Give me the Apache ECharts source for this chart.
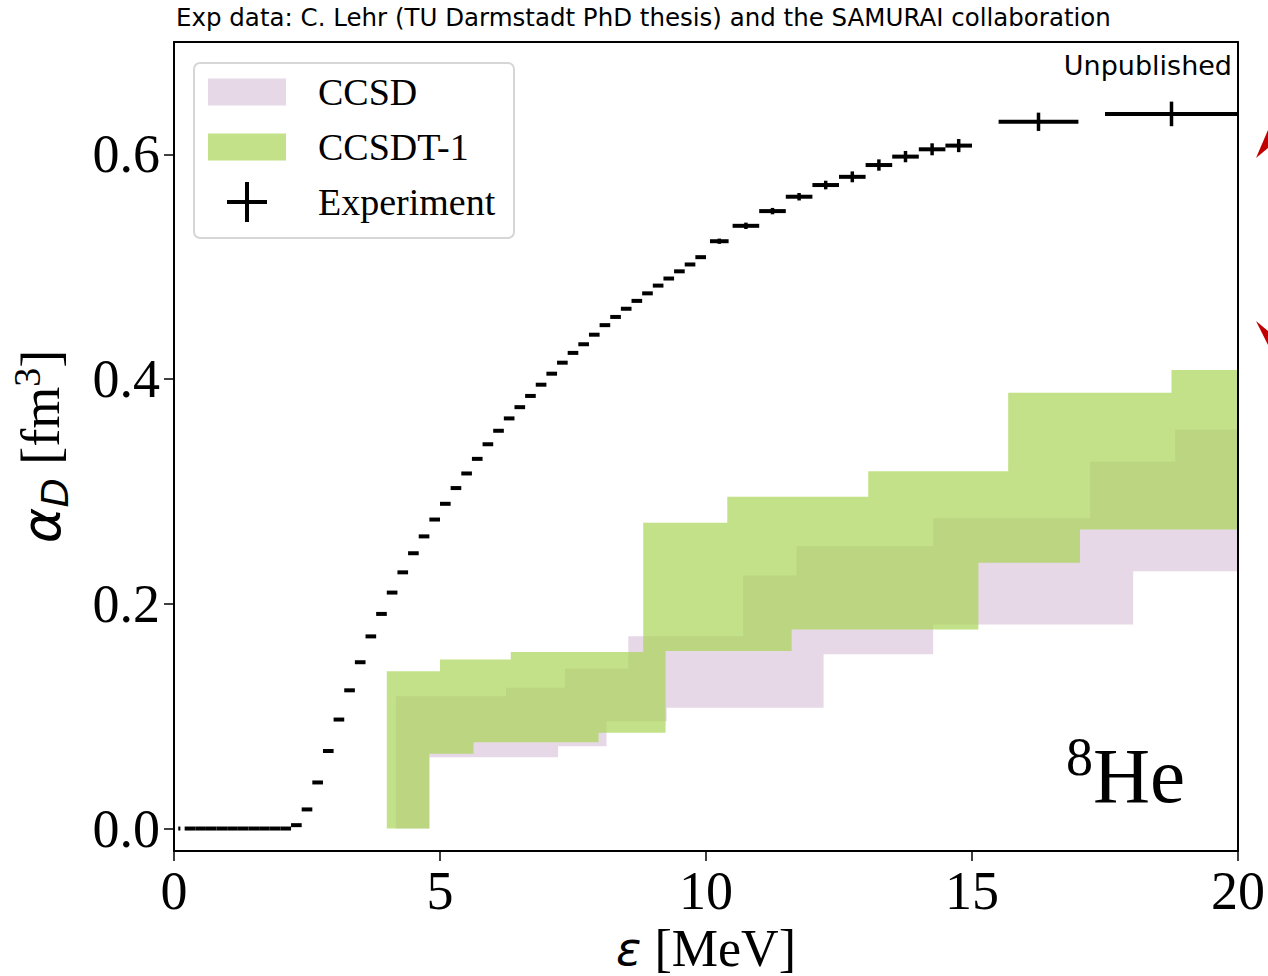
<!DOCTYPE html>
<html><head><meta charset="utf-8">
<script src="https://cdn.jsdelivr.net/npm/echarts@6/dist/echarts.min.js"></script>
<style>html,body{margin:0;padding:0;background:#fff}#c{width:1268px;height:976px}</style>
</head><body><div id="c"></div>
<script>
// ---- Experimental data (C. Lehr / SAMURAI) ----
const expX = [0.1,0.3,0.5,0.7,0.9,1.1,1.3,1.5,1.7,1.9,2.1,
  2.3,2.5,2.7,2.9,3.1,3.3,3.5,3.7,3.9,4.1,4.3,4.5,4.7,4.9,5.1,5.3,5.5,5.7,5.9,6.1,6.3,6.5,
  6.7,6.9,7.1,7.3,7.5,7.7,7.9,8.1,8.3,8.5,8.7,8.9,9.1,9.3,9.5,9.7,9.9,
  10.25,10.75,11.25,11.75,12.25,12.75,13.25,13.75,14.25,14.75,16.25,18.75];
const expY = [0,0,0,0,0,0,0,0,0,0,0,
  0.003,0.017,0.041,0.069,0.097,0.123,0.148,0.171,0.191,0.210,0.228,0.245,0.260,0.275,0.289,0.303,0.316,0.329,0.342,0.354,0.365,0.375,
  0.385,0.395,0.4048,0.4146,0.4233,0.431,0.4395,0.448,0.4553,0.4626,0.4696,0.4763,0.4832,0.4895,0.4959,0.502,0.5085,
  0.5227,0.5364,0.5495,0.5623,0.5727,0.580,0.5905,0.598,0.6045,0.6078,0.629,0.636];
const expXErr = [0.02,0.1,0.1,0.1,0.1,0.1,0.1,0.1,0.1,0.1,0.1,
  0.1,0.1,0.1,0.1,0.1,0.1,0.1,0.1,0.1,0.1,0.1,0.1,0.1,0.1,0.1,0.1,0.1,0.1,0.1,0.1,0.1,0.1,
  0.1,0.1,0.1,0.1,0.1,0.1,0.1,0.1,0.1,0.1,0.1,0.1,0.1,0.1,0.1,0.1,0.1,
  0.175,0.25,0.25,0.25,0.25,0.25,0.25,0.25,0.25,0.25,0.75,1.25];
const expYErr = [0,0,0,0,0,0,0,0,0,0,0,
  0,0,0,0,0,0,0,0,0,0,0,0,0,0,0,0,0,0,0,0,0,0,
  0,0,0,0,0,0,0,0,0,0,0,0,0,0,0,0,0,
  0.001,0.0015,0.0015,0.002,0.0025,0.0035,0.0037,0.0037,0.004,0.0045,0.0068,0.0096];

// ---- Theory bands: step energies (MeV) and cumulative alpha_D values (fm^3) ----
const ccsdUpperE   = [4.17, 6.24, 7.35, 8.54, 10.70, 11.70, 14.27, 17.22, 18.82];
const ccsdUpperV   = [0.1178, 0.1252, 0.1422, 0.1712, 0.2252, 0.2513, 0.2762, 0.3264, 0.3552];
const ccsdLowerE   = [4.80, 7.22, 8.13, 9.26, 12.21, 14.27, 18.03];
const ccsdLowerV   = [0.0635, 0.0733, 0.0955, 0.1074, 0.155, 0.1816, 0.229];
const ccsdt1UpperE = [4.00, 5.00, 6.33, 8.82, 10.40, 13.05, 15.68, 18.75];
const ccsdt1UpperV = [0.140, 0.1505, 0.157, 0.2721, 0.2953, 0.318, 0.3879, 0.408];
const ccsdt1LowerE = [4.80, 5.63, 7.98, 9.24, 11.61, 15.12, 17.03];
const ccsdt1LowerV = [0.0665, 0.0768, 0.0852, 0.1579, 0.1772, 0.2365, 0.2662];

// ---- Axes ----
const xMin = 0, xMax = 20, xInterval = 5;
const yMin = -0.02, yMax = 0.70;
const yTickValues = [0.0, 0.2, 0.4, 0.6];

const SERIF = '"Liberation Serif", "Times New Roman", serif';
const SANS = '"DejaVu Sans", sans-serif';
const PINK = '#e6d8e6';
const GREEN = 'rgba(169,212,85,0.7)';

function stepPoints(E, V, api) {
  const pts = [api.coord([xMin, 0])];
  let prev = 0;
  for (let i = 0; i < E.length; i++) {
    pts.push(api.coord([E[i], prev]));
    pts.push(api.coord([E[i], V[i]]));
    prev = V[i];
  }
  pts.push(api.coord([xMax, prev]));
  return pts;
}
function bandRenderer(UE, UV, LE, LV, color) {
  return function (params, api) {
    const up = stepPoints(UE, UV, api);
    const lo = stepPoints(LE, LV, api).reverse();
    return { type: 'polygon', shape: { points: up.concat(lo) }, style: { fill: color, stroke: null } };
  };
}

const expData = expX.map((x, i) => [x, expY[i], expXErr[i], expYErr[i]]);

const chart = echarts.init(document.getElementById('c'), null, { renderer: 'svg' });
const option = {
  animation: false,
  backgroundColor: '#fff',
  title: {
    text: 'Exp data: C. Lehr (TU Darmstadt PhD thesis) and the SAMURAI collaboration',
    left: 176, top: 5, padding: 0,
    textStyle: { fontFamily: SANS, fontSize: 24.5, fontWeight: 'normal', color: '#000' }
  },
  grid: { left: 174, right: 30, top: 42, bottom: 125, show: false, containLabel: false, outerBoundsMode: 'none' },
  xAxis: [{
    type: 'value', min: xMin, max: xMax, interval: xInterval, z: 10,
    axisLine: { show: true, onZero: false, lineStyle: { color: '#000', width: 2 } },
    axisTick: { show: true, inside: false, length: 10, lineStyle: { color: '#000', width: 1.5 } },
    axisLabel: { margin: 13, fontFamily: SERIF, fontSize: 54, color: '#000' },
    splitLine: { show: false },
    name: '{e|ε}{t| [MeV]}', nameLocation: 'middle', nameGap: 57,
    nameTextStyle: { rich: {
      e: { fontFamily: SANS, fontStyle: 'italic', fontSize: 47, color: '#000' },
      t: { fontFamily: SERIF, fontSize: 52, color: '#000' } } }
  }, {
    type: 'value', position: 'top', min: xMin, max: xMax, interval: xInterval, z: 10,
    axisLine: { show: true, onZero: false, lineStyle: { color: '#000', width: 2 } },
    axisTick: { show: false }, axisLabel: { show: false }, splitLine: { show: false }
  }],
  yAxis: [{
    type: 'value', min: yMin, max: yMax, z: 10,
    axisLine: { show: true, onZero: false, lineStyle: { color: '#000', width: 2 } },
    axisTick: { show: true, inside: false, length: 10, customValues: yTickValues, lineStyle: { color: '#000', width: 1.5 } },
    axisLabel: { margin: 14, customValues: yTickValues, formatter: v => v.toFixed(1), fontFamily: SERIF, fontSize: 54, color: '#000' },
    splitLine: { show: false },
    name: '{a|α}{d|D}{t| [fm}{u|3}{t|]}', nameLocation: 'middle', nameGap: 100, nameRotate: 90,
    nameTextStyle: { rich: {
      a: { fontFamily: SANS, fontStyle: 'italic', fontSize: 54, lineHeight: 66, verticalAlign: 'middle', color: '#000' },
      d: { fontFamily: SANS, fontStyle: 'italic', fontSize: 38, lineHeight: 38, verticalAlign: 'bottom', color: '#000' },
      t: { fontFamily: SERIF, fontSize: 54, lineHeight: 66, verticalAlign: 'middle', color: '#000' },
      u: { fontFamily: SERIF, fontSize: 38, lineHeight: 38, verticalAlign: 'top', color: '#000' } } }
  }, {
    type: 'value', position: 'right', min: yMin, max: yMax, z: 10,
    axisLine: { show: true, onZero: false, lineStyle: { color: '#000', width: 2 } },
    axisTick: { show: false }, axisLabel: { show: false }, splitLine: { show: false }
  }],
  legend: [
    { data: [{ name: 'CCSD', icon: 'rect', itemStyle: { color: PINK } }], left: 208, top: 73, padding: 0, z: 10,
      itemWidth: 78, itemHeight: 27, selectedMode: false,
      textStyle: { fontFamily: SERIF, fontSize: 38, color: '#000', padding: [0, 0, 0, 27] } },
    { data: [{ name: 'CCSDT-1', icon: 'rect', itemStyle: { color: 'rgb(195,225,136)' } }], left: 208, top: 128, padding: 0, z: 10,
      itemWidth: 78, itemHeight: 27, selectedMode: false,
      textStyle: { fontFamily: SERIF, fontSize: 38, color: '#000', padding: [0, 0, 0, 27] } },
    { data: [{ name: 'Experiment', icon: 'path://M18,0 H22 V18 H40 V22 H22 V40 H18 V22 H0 V18 H18 Z', itemStyle: { color: '#000' } }],
      left: 227, top: 182, padding: 0, z: 10,
      itemWidth: 40, itemHeight: 40, selectedMode: false,
      textStyle: { fontFamily: SERIF, fontSize: 38, color: '#000', padding: [0, 0, 0, 46] } }
  ],
  graphic: [
    { type: 'rect', left: 193, top: 62, z: 9, shape: { width: 320, height: 175, r: 6 },
      style: { fill: 'rgba(255,255,255,0.8)', stroke: '#d6d6d6', lineWidth: 2 } },
    { type: 'text', right: 36, top: 52, z: 10,
      style: { text: 'Unpublished', font: '27px ' + SANS, fill: '#000' } },
    { type: 'text', left: 1066, top: 730, z: 10,
      style: { text: '{s|8}{h|He}', rich: {
        s: { fontFamily: SERIF, fontSize: 54, lineHeight: 54, verticalAlign: 'top', fill: '#000' },
        h: { fontFamily: SERIF, fontSize: 79, lineHeight: 90, verticalAlign: 'middle', fill: '#000' } } } },
    { type: 'polygon', z: 10, shape: { points: [[1256, 158], [1268, 130], [1268, 148]] }, style: { fill: '#c00000' } },
    { type: 'polygon', z: 10, shape: { points: [[1256, 321], [1268, 345], [1268, 331]] }, style: { fill: '#c00000' } }
  ],
  series: [
    { name: 'CCSD', type: 'custom', coordinateSystem: 'cartesian2d', z: 2, clip: true,
      itemStyle: { color: PINK }, data: [[0, 0]],
      renderItem: bandRenderer(ccsdUpperE, ccsdUpperV, ccsdLowerE, ccsdLowerV, PINK) },
    { name: 'CCSDT-1', type: 'custom', coordinateSystem: 'cartesian2d', z: 3, clip: true,
      itemStyle: { color: GREEN }, data: [[0, 0]],
      renderItem: bandRenderer(ccsdt1UpperE, ccsdt1UpperV, ccsdt1LowerE, ccsdt1LowerV, GREEN) },
    { name: 'Experiment', type: 'custom', coordinateSystem: 'cartesian2d', z: 4, clip: false,
      itemStyle: { color: '#000' }, data: expData, encode: { x: 0, y: 1 },
      renderItem: function (params, api) {
        const x = api.value(0), y = api.value(1), dx = api.value(2), dy = api.value(3);
        const a = api.coord([x - dx, y]), b = api.coord([x + dx, y]);
        const children = [{ type: 'line', shape: { x1: a[0], y1: a[1], x2: b[0], y2: b[1] },
          style: { stroke: '#000', lineWidth: 4, lineCap: 'butt' } }];
        if (dy > 0) {
          const c = api.coord([x, y - dy]), d = api.coord([x, y + dy]);
          children.push({ type: 'line', shape: { x1: c[0], y1: c[1] + 1.5, x2: d[0], y2: d[1] - 1.5 },
            style: { stroke: '#000', lineWidth: 3.5, lineCap: 'butt' } });
        }
        return { type: 'group', children: children };
      } }
  ]
};
chart.setOption(option);
</script></body></html>
